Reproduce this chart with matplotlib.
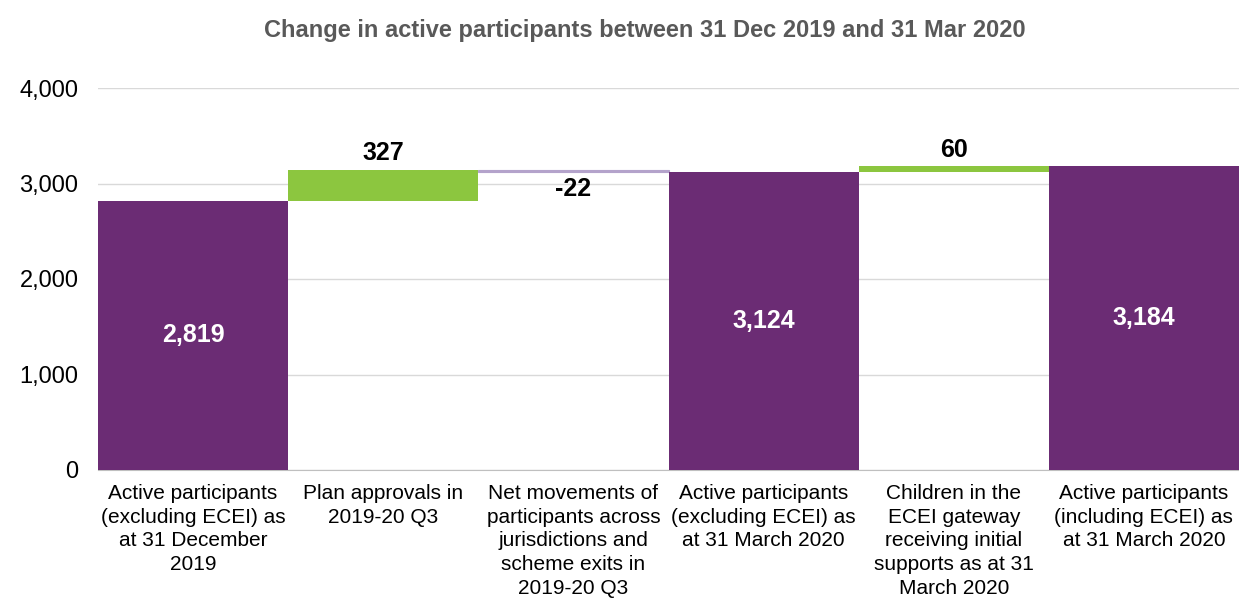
import matplotlib
matplotlib.use("Agg")
import matplotlib.pyplot as plt
from matplotlib.ticker import FuncFormatter

plt.rcParams['font.family'] = ['Liberation Sans', 'DejaVu Sans']

categories = [
    "Active participants\n(excluding ECEI) as\nat 31 December\n2019",
    "Plan approvals in\n2019-20 Q3",
    "Net movements of\nparticipants across\njurisdictions and\nscheme exits in\n2019-20 Q3",
    "Active participants\n(excluding ECEI) as\nat 31 March 2020",
    "Children in the\nECEI gateway\nreceiving initial\nsupports as at 31\nMarch 2020",
    "Active participants\n(including ECEI) as\nat 31 March 2020",
]
kinds = ["total", "change", "change", "total", "change", "total"]
values = [2819, 327, -22, 3124, 60, 3184]
yticks = [0, 1000, 2000, 3000, 4000]

purple = "#6b2c74"
green = "#8cc63f"
lavender = "#b4a3cb"

fig = plt.figure(figsize=(12.39, 6.01), dpi=100)
ax = fig.add_axes([98/1239, 1-470/601, 1-98/1239, (470-88)/601])

running = 0
for i, (k, v) in enumerate(zip(kinds, values)):
    if k == "total":
        ax.bar(i, v, width=1.0, bottom=0, color=purple, zorder=3)
        ax.text(i, v/2, f"{v:,}", ha="center", va="center", color="white",
                fontsize=18, fontweight="bold", zorder=4)
        running = v
    else:
        if v >= 0:
            ax.bar(i, v, width=1.0, bottom=running, color=green, zorder=3)
            ax.text(i, running + v + 45, f"{v:,}", ha="center", va="bottom",
                    color="black", fontsize=18, fontweight="bold", zorder=4)
            running = running + v
        else:
            ax.bar(i, -v, width=1.0, bottom=running + v, color=lavender,
                   edgecolor=lavender, linewidth=0.8, zorder=3)
            ax.text(i, running + v - 60, f"{v:,}", ha="center", va="top",
                    color="black", fontsize=18, fontweight="bold", zorder=4)

ax.set_xlim(-0.5, len(values) - 0.5)
ax.set_ylim(0, 4000)
ax.set_yticks(yticks)
ax.yaxis.set_major_formatter(FuncFormatter(lambda x, p: f"{int(x):,}"))
ax.grid(axis="y", color="#d9d9d9", linewidth=1, zorder=0)
ax.set_axisbelow(True)
for s in ["top", "right", "left"]:
    ax.spines[s].set_visible(False)
ax.spines["bottom"].set_color("#bfbfbf")
ax.tick_params(axis="y", length=0, labelsize=17, pad=14, colors="black")
ax.tick_params(axis="x", length=0, pad=10)
ax.set_xticks(range(len(categories)))
ax.set_xticklabels(categories, fontsize=15, linespacing=1.32, va="top")

fig.text(645/1239, 1-30/601, "Change in active participants between 31 Dec 2019 and 31 Mar 2020",
         ha="center", va="center", fontsize=17, fontweight="bold", color="#595959")

fig.savefig("out.png", dpi=100)
